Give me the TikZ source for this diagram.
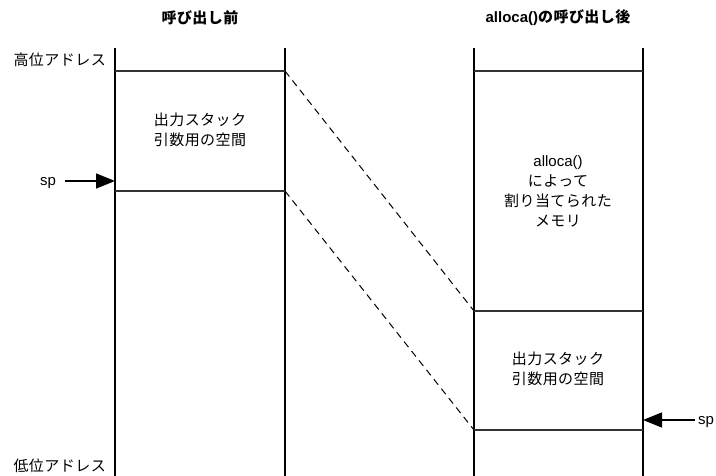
\documentclass[tikz,border=0pt]{standalone}
\usepackage{fontspec}
\setmainfont{Noto Sans CJK JP}[LetterSpace=3]
\newfontfamily\lat{Liberation Sans}
\usetikzlibrary{arrows.meta}
\tikzset{
  wall/.style={line width=1.5pt, black},
  sep/.style={line width=1.4pt, black!80},
  dashline/.style={line width=1pt, dash pattern=on 7pt off 5pt},
  lbl/.style={font=\fontsize{15}{20}\selectfont, align=center, inner sep=0pt},
  ttl/.style={font=\fontsize{15}{20}\selectfont\bfseries, inner sep=0pt},
  sptxt/.style={font=\lat\fontsize{15}{18}\selectfont, inner sep=0pt},
  sparrow/.style={line width=1.4pt, -{Triangle[length=19pt,width=15pt]}}
}
\begin{document}
\begin{tikzpicture}[x=1pt,y=-1pt]
\useasboundingbox (0,0) rectangle (716,476);
% left column
\coordinate (LTL) at (115,48); \coordinate (LBL) at (115,476);
\coordinate (LTR) at (285,48); \coordinate (LBR) at (285,476);
\coordinate (LaL) at (115,71); \coordinate (LaR) at (285,71);
\coordinate (LbL) at (115,191); \coordinate (LbR) at (285,191);
\draw[wall] (LTL) -- (LBL);
\draw[wall] (LTR) -- (LBR);
\draw[sep] (LaL) -- (LaR);
\draw[sep] (LbL) -- (LbR);
% right column
\coordinate (RTL) at (474,48); \coordinate (RBL) at (474,476);
\coordinate (RTR) at (643,48); \coordinate (RBR) at (643,476);
\coordinate (RaL) at (474,71); \coordinate (RaR) at (643,71);
\coordinate (RbL) at (474,311); \coordinate (RbR) at (643,311);
\coordinate (RcL) at (474,430); \coordinate (RcR) at (643,430);
\draw[wall] (RTL) -- (RBL);
\draw[wall] (RTR) -- (RBR);
\draw[sep] (RaL) -- (RaR);
\draw[sep] (RbL) -- (RbR);
\draw[sep] (RcL) -- (RcR);
% dashed
\draw[dashline] (LaR) -- (RbL);
\draw[dashline] (LbR) -- (RcL);
% titles
\node[ttl] (t1) at (200,18) {呼び出し前};
\node[ttl] (t2) at (558,18) {{\lat\bfseries alloca()}の呼び出し後};
% address labels
\node[lbl, anchor=east] (hi) at (106,60) {高位アドレス};
\node[lbl, anchor=east] (lo) at (106,466) {低位アドレス};
% block texts
\node[lbl] (b1) at (200,130) {出力スタック\\引数用の空間};
\node[lbl] (b2) at (558,191) {{\lat alloca()}\\によって\\割り当てられた\\メモリ};
\node[lbl] (b3) at (558,369) {出力スタック\\引数用の空間};
% sp arrows
\node[sptxt] (sp1) at (48,183) {sp};
\coordinate (sp1t) at (115,181);
\coordinate (sp1s) at (65,181);
\draw[sparrow] (sp1s) -- (sp1t);
\node[sptxt] (sp2) at (706,422) {sp};
\coordinate (sp2t) at (643,420);
\coordinate (sp2s) at (695,420);
\draw[sparrow] (sp2s) -- (sp2t);
\end{tikzpicture}
\end{document}
